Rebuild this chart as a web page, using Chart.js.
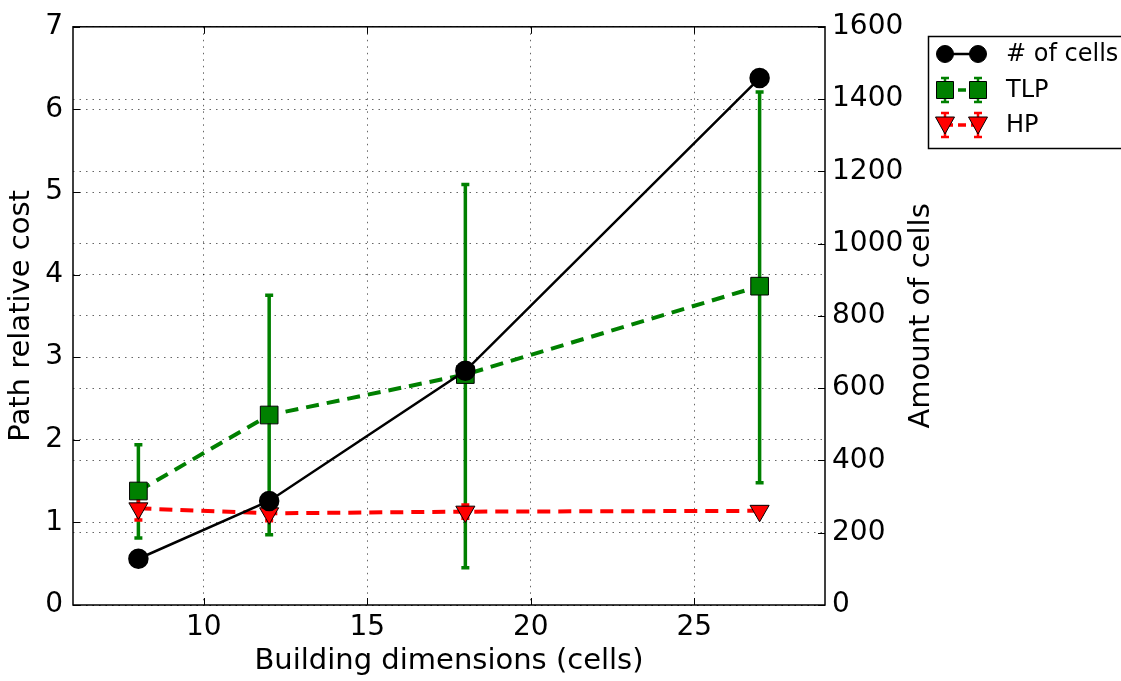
<!DOCTYPE html>
<html>
<head>
<meta charset="utf-8">
<script src="https://cdn.jsdelivr.net/npm/chart.js@4.4.0/dist/chart.umd.min.js"></script>
<style>
    body { margin: 0; background: #fff; }
    #wrap { width: 1121px; height: 681px; position: relative; }
</style>
</head>
<body>
<div id="wrap"><canvas id="myChart"></canvas></div>
<script>
// building sizes (cells per side)
const dims = [8, 12, 18, 27];
const xTicks = [10, 15, 20, 25];

const cells = [128, 288, 648, 1458];

const tlp = [1.38, 2.30, 2.79, 3.86];
const tlpLow = [0.81, 0.85, 0.45, 1.48];
const tlpHigh = [1.94, 3.75, 5.09, 6.21];

const hp = [1.17, 1.11, 1.13, 1.14];
const hpLow = [1.03, 1.02, 1.05, 1.10];
const hpHigh = [1.30, 1.20, 1.21, 1.18];

const FONT = "'DejaVu Sans', sans-serif";

function pts(ys) {
    return dims.map((x, i) => ({ x: x, y: ys[i] }));
}

const errorBars = [
    { low: tlpLow, high: tlpHigh, color: '#008000', axis: 'y' },
    { low: hpLow, high: hpHigh, color: '#ff0000', axis: 'y' }
];

function drawMarker(ctx, style, x, y, color) {
    ctx.save();
    ctx.fillStyle = color;
    ctx.strokeStyle = '#000';
    ctx.lineWidth = 1;
    ctx.beginPath();
    if (style == 'circle') {
        ctx.arc(x, y, 8.5, 0, Math.PI * 2);
    } else if (style == 'rect') {
        ctx.rect(x - 8.5, y - 8.5, 17, 17);
    } else {
        ctx.moveTo(x - 9.5, y - 8);
        ctx.lineTo(x + 9.5, y - 8);
        ctx.lineTo(x, y + 9);
        ctx.closePath();
    }
    ctx.fill();
    ctx.stroke();
    ctx.restore();
}

const extras = {
    id: 'extras',
    beforeDatasetsDraw(chart) {
        const ctx = chart.ctx;
        const xs = chart.scales.x;
        errorBars.forEach(eb => {
            const ys = chart.scales[eb.axis];
            ctx.save();
            ctx.strokeStyle = eb.color;
            ctx.lineWidth = 3.5;
            dims.forEach((d, i) => {
                const px = xs.getPixelForValue(d);
                const y1 = ys.getPixelForValue(eb.low[i]);
                const y2 = ys.getPixelForValue(eb.high[i]);
                ctx.beginPath();
                ctx.moveTo(px, y1);
                ctx.lineTo(px, y2);
                ctx.moveTo(px - 4, y1);
                ctx.lineTo(px + 4, y1);
                ctx.moveTo(px - 4, y2);
                ctx.lineTo(px + 4, y2);
                ctx.stroke();
            });
            ctx.restore();
        });
    },
    afterDraw(chart) {
        const ctx = chart.ctx;
        const a = chart.chartArea;
        ctx.save();
        // frame
        ctx.strokeStyle = '#000';
        ctx.lineWidth = 1.5;
        ctx.strokeRect(a.left, a.top, a.right - a.left, a.bottom - a.top);
        // inward ticks
        ctx.lineWidth = 1;
        chart.scales.x.ticks.forEach(t => {
            const px = Math.round(chart.scales.x.getPixelForValue(t.value)) + 0.5;
            ctx.beginPath();
            ctx.moveTo(px, a.bottom); ctx.lineTo(px, a.bottom - 7);
            ctx.moveTo(px, a.top); ctx.lineTo(px, a.top + 7);
            ctx.stroke();
        });
        chart.scales.y.ticks.forEach(t => {
            const py = Math.round(chart.scales.y.getPixelForValue(t.value)) + 0.5;
            ctx.beginPath();
            ctx.moveTo(a.left, py); ctx.lineTo(a.left + 7, py);
            ctx.stroke();
        });
        chart.scales.y2.ticks.forEach(t => {
            const py = Math.round(chart.scales.y2.getPixelForValue(t.value)) + 0.5;
            ctx.beginPath();
            ctx.moveTo(a.right, py); ctx.lineTo(a.right - 7, py);
            ctx.stroke();
        });
        // right axis title, reading bottom to top
        ctx.fillStyle = '#000';
        ctx.font = '29px ' + FONT;
        ctx.textAlign = 'center';
        ctx.textBaseline = 'middle';
        ctx.translate(921, (a.top + a.bottom) / 2);
        ctx.rotate(-Math.PI / 2);
        ctx.fillText('Amount of cells', 0, 0);
        ctx.restore();

        // legend
        ctx.save();
        ctx.fillStyle = '#fff';
        ctx.fillRect(928, 36, 200, 112);
        ctx.strokeStyle = '#000';
        ctx.lineWidth = 1.5;
        ctx.strokeRect(928.5, 36.5, 200, 112);
        const rows = [
            { label: '# of cells', color: '#000', style: 'circle', dash: [], width: 2.5, y: 54, err: false },
            { label: 'TLP', color: '#008000', style: 'rect', dash: [8, 5], width: 3.5, y: 90, err: true },
            { label: 'HP', color: '#ff0000', style: 'triangle', dash: [8, 5], width: 3.5, y: 125, err: true }
        ];
        rows.forEach(r => {
            ctx.save();
            ctx.strokeStyle = r.color;
            ctx.lineWidth = r.width;
            ctx.setLineDash(r.dash);
            ctx.beginPath();
            ctx.moveTo(945, r.y);
            ctx.lineTo(978, r.y);
            ctx.stroke();
            ctx.restore();
            [945, 978].forEach(mx => {
                if (r.err) {
                    ctx.save();
                    ctx.strokeStyle = r.color;
                    ctx.lineWidth = 2.5;
                    ctx.beginPath();
                    ctx.moveTo(mx, r.y - 12); ctx.lineTo(mx, r.y + 12);
                    ctx.moveTo(mx - 4, r.y - 12); ctx.lineTo(mx + 4, r.y - 12);
                    ctx.moveTo(mx - 4, r.y + 12); ctx.lineTo(mx + 4, r.y + 12);
                    ctx.stroke();
                    ctx.restore();
                }
                drawMarker(ctx, r.style, mx, r.y, r.color);
            });
            ctx.fillStyle = '#000';
            ctx.font = '24px ' + FONT;
            ctx.textAlign = 'left';
            ctx.textBaseline = 'middle';
            ctx.fillText(r.label, 1006, r.y + 1);
        });
        ctx.restore();
    }
};

const gridStyle = {
    color: 'rgba(0,0,0,0.6)',
    lineWidth: 1,
    drawTicks: false
};
const gridBorder = { display: false, dash: [1.5, 5] };

new Chart(document.getElementById('myChart'), {
    type: 'line',
    data: {
        datasets: [
            {
                label: '# of cells',
                data: pts(cells),
                yAxisID: 'y2',
                borderColor: '#000',
                backgroundColor: '#000',
                borderWidth: 2.5,
                pointStyle: 'circle',
                pointRadius: 9,
                pointBackgroundColor: '#000',
                pointBorderColor: '#000',
                tension: 0
            },
            {
                label: 'HP',
                data: pts(hp),
                yAxisID: 'y',
                borderColor: '#ff0000',
                borderDash: [13, 8],
                borderWidth: 4,
                pointStyle: 'triangle',
                pointRotation: 180,
                pointRadius: 11,
                pointBackgroundColor: '#ff0000',
                pointBorderColor: '#000',
                pointBorderWidth: 1,
                tension: 0
            },
            {
                label: 'TLP',
                data: pts(tlp),
                yAxisID: 'y',
                borderColor: '#008000',
                borderDash: [13, 8],
                borderWidth: 4,
                pointStyle: 'rect',
                pointRadius: 12.5,
                pointBackgroundColor: '#008000',
                pointBorderColor: '#000',
                pointBorderWidth: 1,
                tension: 0
            }
        ]
    },
    options: {
        responsive: true,
        maintainAspectRatio: false,
        animation: false,
        layout: { padding: { top: 20, right: 179, left: 0, bottom: 0 } },
        plugins: {
            legend: { display: false },
            tooltip: { enabled: false }
        },
        scales: {
            x: {
                type: 'linear',
                min: 6,
                max: 29,
                afterBuildTicks: s => { s.ticks = xTicks.map(v => ({ value: v })); },
                afterFit: s => { s.height = 76; },
                grid: { ...gridStyle },
                border: { ...gridBorder },
                ticks: { color: '#000', font: { family: FONT, size: 28 }, padding: 6, maxRotation: 0 },
                title: { display: true, text: 'Building dimensions (cells)', color: '#000', font: { family: FONT, size: 29 }, padding: { top: 0, bottom: 2 } }
            },
            y: {
                position: 'left',
                min: 0,
                max: 7,
                afterFit: s => { s.width = 73; },
                grid: { ...gridStyle },
                border: { ...gridBorder },
                ticks: { stepSize: 1, color: '#000', font: { family: FONT, size: 28 }, padding: 10 },
                title: { display: true, text: 'Path relative cost', color: '#000', font: { family: FONT, size: 29 }, padding: { top: 4, bottom: 0 } }
            },
            y2: {
                position: 'right',
                min: 0,
                max: 1600,
                afterFit: s => { s.width = 117; },
                grid: { ...gridStyle, drawOnChartArea: true },
                border: { ...gridBorder },
                ticks: { stepSize: 200, color: '#000', font: { family: FONT, size: 28 }, padding: 7, callback: v => String(v) }
            }
        }
    },
    plugins: [extras]
});
</script>
</body>
</html>
